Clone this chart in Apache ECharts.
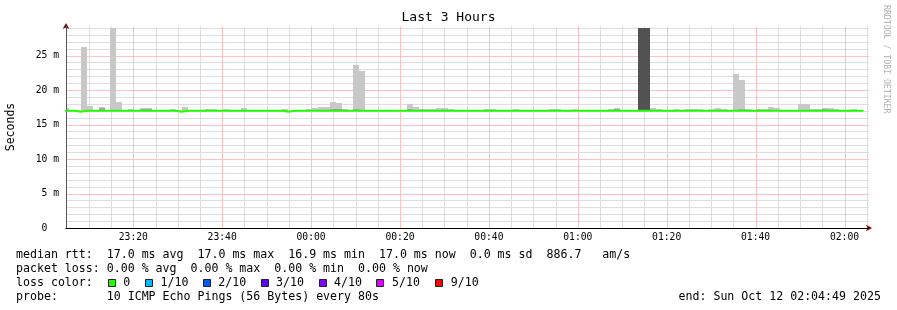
<!DOCTYPE html>
<html>
<head>
<meta charset="utf-8">
<script src="https://cdn.jsdelivr.net/npm/echarts@6/dist/echarts.min.js"></script>
<style>html,body{margin:0;padding:0;background:#fff}#c{width:897px;height:310px}</style>
</head>
<body>
<div id="c"></div>
<script>
// ---- data (time unit: minutes after Sat 23:00; values in ms) ----
const stepStart = 4.2;            // 23:04:12, start of the first (partial) 80 s step
const stepMinutes = 80 / 60;      // probe step: 80 s

// median rtt per step
const rttMedian = [
  17.0,17.0,16.85,17.0,17.0,17.0,17.0,17.0,17.0,17.0,
  17.0,17.0,17.0,17.0,17.0,17.0,17.0,17.0,17.0,16.85,
  17.0,17.0,17.0,17.0,17.0,17.0,17.0,17.0,17.0,17.0,
  17.0,17.0,17.0,17.0,17.0,17.0,17.0,16.85,17.0,17.0,
  17.0,17.0,17.0,17.0,17.0,17.0,17.0,17.0,17.0,17.0,
  17.0,17.0,17.0,17.0,17.0,17.0,17.0,17.0,17.0,17.0,
  17.0,17.0,17.0,17.0,17.0,17.0,17.0,17.0,17.0,17.0,
  17.0,17.0,17.0,17.0,17.0,17.0,17.0,17.0,17.0,17.0,
  17.0,17.0,17.0,17.0,17.0,17.0,17.0,17.0,17.0,17.0,
  17.0,17.0,17.0,17.0,17.0,17.0,17.0,17.0,17.0,17.0,
  17.0,17.0,17.0,17.0,17.0,17.0,17.0,17.0,17.0,17.0,
  17.0,17.0,17.0,17.0,17.0,17.0,17.0,17.0,17.0,17.0,
  17.0,17.0,17.0,17.0,17.0,17.0,17.0,17.0,17.0,17.0,
  17.0,17.0,17.0,17.0,17.0
];
// lowest ping per step (smoke bottom)
const smokeLow = [
  16.9,16.9,16.8,16.9,16.9,16.9,16.9,16.9,16.9,16.9,
  16.9,16.9,16.9,16.9,16.9,16.9,16.9,16.9,16.9,16.8,
  16.9,16.9,16.9,16.9,16.9,16.9,16.9,16.9,16.9,16.9,
  16.9,16.9,16.9,16.9,16.9,16.9,16.9,16.8,16.9,16.9,
  16.9,16.9,16.9,16.9,16.9,16.9,16.9,16.9,16.9,16.9,
  16.9,16.9,16.9,16.9,16.9,16.9,16.9,16.9,16.9,16.9,
  16.9,16.9,16.9,16.9,16.9,16.9,16.9,16.9,16.9,16.9,
  16.9,16.9,16.9,16.9,16.9,16.9,16.9,16.9,16.9,16.9,
  16.9,16.9,16.9,16.9,16.9,16.9,16.9,16.9,16.9,16.9,
  16.9,16.9,16.9,16.9,16.9,16.9,16.9,16.9,16.9,16.9,
  16.9,16.9,16.9,16.9,16.9,16.9,16.9,16.9,16.9,16.9,
  16.9,16.9,16.9,16.9,16.9,16.9,16.9,16.9,16.9,16.9,
  16.9,16.9,16.9,16.9,16.9,16.9,16.9,16.9,16.9,16.9,
  16.9,16.9,16.9,16.9,16.9
];
// highest ping per step (outer, light smoke)
const smokeHigh = [
  17.4,17.0,17.0,26.2,17.7,17.0,17.53,17.0,29.0,18.25,
  17.0,17.25,17.0,17.4,17.4,17.0,17.0,17.0,17.25,17.0,
  17.53,17.0,17.0,17.0,17.25,17.25,17.0,17.25,17.0,17.0,
  17.4,17.0,17.0,17.0,17.0,17.0,17.0,17.25,17.0,17.0,
  17.0,17.25,17.35,17.53,17.53,18.25,18.1,17.25,17.0,23.65,
  22.8,17.0,17.0,17.0,17.0,17.0,17.0,17.0,18.0,17.53,
  17.25,17.25,17.25,17.4,17.4,17.25,17.0,17.0,17.0,17.0,
  17.0,17.25,17.25,17.0,17.0,17.0,17.25,17.0,17.0,17.0,
  17.0,17.0,17.25,17.25,17.0,17.0,17.25,17.0,17.0,17.0,
  17.0,17.0,17.25,17.4,17.0,17.0,17.0,29.0,29.0,17.4,
  17.25,17.0,17.0,17.25,17.0,17.25,17.25,17.25,17.0,17.25,
  17.4,17.25,17.0,22.3,21.45,17.25,17.0,17.25,17.25,17.53,
  17.4,17.0,17.0,17.0,18.0,18.0,17.25,17.25,17.4,17.4,
  17.25,17.0,17.0,17.25,17.0
];
// inner (medium grey) smoke top per step
const smokeMid = [
  null,null,null,null,null,null,17.35,null,null,null,
  null,null,null,17.3,17.3,null,null,null,null,null,
  null,null,null,null,null,null,null,null,null,null,
  null,null,null,null,null,null,null,null,null,null,
  null,null,null,null,null,17.25,17.25,null,null,17.25,
  null,null,null,null,null,null,null,null,17.25,null,
  null,null,null,null,null,null,null,null,null,null,
  null,null,null,null,null,null,null,null,null,null,
  null,null,null,null,null,null,null,null,null,null,
  null,null,null,17.3,null,null,null,null,null,null,
  null,null,null,null,null,null,null,null,null,null,
  null,null,null,null,17.25,null,null,null,null,null,
  null,null,null,null,null,null,null,null,17.3,null,
  null,null,null,null,null
];
// core (dark grey) smoke top per step
const smokeCore = [
  null,null,null,null,null,null,null,null,null,null,
  null,null,null,null,null,null,null,null,null,null,
  null,null,null,null,null,null,null,null,null,null,
  null,null,null,null,null,null,null,null,null,null,
  null,null,null,null,null,null,null,null,null,null,
  null,null,null,null,null,null,null,null,null,null,
  null,null,null,null,null,null,null,null,null,null,
  null,null,null,null,null,null,null,null,null,null,
  null,null,null,null,null,null,null,null,null,null,
  null,null,null,null,null,null,null,29.0,29.0,null,
  null,null,null,null,null,null,null,null,null,null,
  null,null,null,null,null,null,null,null,null,null,
  null,null,null,null,null,null,null,null,null,null,
  null,null,null,null,null
];
// axis tick labels (minutes after 23:00) and grid values
const xLabelValues = [20,40,60,80,100,120,140,160,180];
const xMinorGrid = [10,15,25,30,35,45,50,55,65,70,75,85,90,95,105,110,115,125,130,135,145,150,155,165,170,175,185];
const yLabelValues = [0,5,10,15,20,25];
const yMinorGrid = [1,2,3,4,6,7,8,9,11,12,13,14,16,17,18,19,21,22,23,24,26,27,28,29];

// legend texts
const statsLine = 'median rtt:  17.0 ms avg  17.0 ms max  16.9 ms min  17.0 ms now  0.0 ms sd  886.7   am/s';
const lossLine = 'packet loss: 0.00 % avg  0.00 % max  0.00 % min  0.00 % now';
const probeLine = 'probe:       10 ICMP Echo Pings (56 Bytes) every 80s';
const endLine = 'end: Sun Oct 12 02:04:49 2025';
const lossLabels = ['0','1/10','2/10','3/10','4/10','5/10','9/10'];
const lossColors = ['#26ff00','#00b8ff','#0059ff','#5e00ff','#7e00ff','#dd00ff','#ff0000'];

// ---- view settings ----
const X_MIN = 4.86, X_MAX = 185.51, Y_MAX = 29.28;
const FONT = '"DejaVu Sans Mono", "Liberation Mono", monospace';
const MINOR = '#dedede';
const MAJOR = '#f8c4c4';

const N = smokeHigh.length;
const stepTimes = [];
for (let k = 0; k <= N; k++) stepTimes.push(stepStart + k * stepMinutes);

function bands(tops, bottoms) {
  const out = [];
  for (let k = 0; k < N; k++) {
    if (tops[k] != null && tops[k] > bottoms[k]) out.push([stepTimes[k], stepTimes[k + 1], bottoms[k], tops[k]]);
  }
  return out;
}

function smokeItem(color) {
  return function (params, api) {
    const cs = params.coordSys;
    const a = api.coord([api.value(0), api.value(3)]);
    const b = api.coord([api.value(1), api.value(2)]);
    const x0 = Math.max(Math.round(a[0]), cs.x);
    const x1 = Math.min(Math.round(b[0]), cs.x + cs.width);
    const y0 = Math.max(Math.round(a[1]), cs.y);
    const y1 = Math.round(b[1]);
    if (x1 <= x0 || y1 <= y0) return null;
    return { type: 'rect', shape: { x: x0, y: y0, width: x1 - x0, height: y1 - y0 }, style: { fill: color } };
  };
}
function hGrid(color) {
  return function (params, api) {
    const cs = params.coordSys;
    const y = Math.round(api.coord([X_MIN, api.value(1)])[1]) + 0.5;
    return { type: 'line', shape: { x1: cs.x + 1, y1: y, x2: cs.x + cs.width, y2: y },
      style: { stroke: color, lineWidth: 1 } };
  };
}
function vGrid(color) {
  return function (params, api) {
    const cs = params.coordSys;
    const x = Math.round(api.coord([api.value(0), 0])[0]) + 0.5;
    return { type: 'line', shape: { x1: x, y1: cs.y, x2: x, y2: cs.y + cs.height },
      style: { stroke: color, lineWidth: 1 } };
  };
}

const medianData = stepTimes.map((t, k) => [t, rttMedian[Math.min(k, N - 1)]]);

function timeLabel(v) {
  const total = Math.round(23 * 60 + v);
  const h = Math.floor(total / 60) % 24, m = total % 60;
  return String(h).padStart(2, '0') + ':' + String(m).padStart(2, '0');
}

// legend graphics
const legendTexts = [
  { type: 'text', x: 16, y: 254.5, style: { text: statsLine } },
  { type: 'text', x: 16, y: 268.5, style: { text: lossLine } },
  { type: 'text', x: 16, y: 282.5, style: { text: 'loss color:' } },
  { type: 'text', x: 16, y: 296.5, style: { text: probeLine } },
  { type: 'text', x: 678.5, y: 296.5, style: { text: endLine } }
];
const boxX = [108.5, 145.5, 203.5, 261.5, 319.5, 376.5, 435.5];
const textX = [123.3, 160.5, 218.3, 276, 334, 392, 450.8];
lossLabels.forEach((lab, i) => {
  legendTexts.push({ type: 'rect', shape: { x: boxX[i], y: 279.5, width: 7, height: 7 },
    style: { fill: lossColors[i], stroke: '#222', lineWidth: 1 } });
  legendTexts.push({ type: 'text', x: textX[i], y: 282.5, style: { text: lab } });
});
legendTexts.forEach(g => {
  if (g.type === 'text') Object.assign(g.style, { font: '11.6px ' + FONT, fill: '#000', verticalAlign: 'middle', align: 'left' });
});
legendTexts.push({ type: 'text', x: 886, y: 5, rotation: -Math.PI / 2,
  style: { text: 'RRDTOOL / TOBI OETIKER', font: '8.2px ' + FONT, fill: '#b0b0b0', align: 'left', verticalAlign: 'middle' } });

const gridSeries = (name, data, render) => ({
  type: 'custom', name, xAxisIndex: 0, yAxisIndex: 0, z: 1, silent: true,
  renderItem: render, data, encode: { x: 0, y: 1 }
});

const chart = echarts.init(document.getElementById('c'), null, { renderer: 'canvas' });
chart.setOption({
  animation: false,
  backgroundColor: '#fff',
  title: { text: 'Last 3 Hours', left: 'center', top: 11, padding: 0,
    textStyle: { fontFamily: FONT, fontSize: 13, fontWeight: 'normal', color: '#000' } },
  grid: { left: 66, right: 28, top: 26, bottom: 82, containLabel: false, outerBoundsMode: 'none' },
  xAxis: [
    { type: 'value', min: X_MIN, max: X_MAX, position: 'bottom', z: 3,
      axisLine: { show: true, onZero: false, lineStyle: { color: '#000', width: 1 } },
      axisTick: { show: false }, splitLine: { show: false },
      axisLabel: { customValues: xLabelValues, formatter: timeLabel, margin: 4,
        fontFamily: FONT, fontSize: 9.7, color: '#000' } },
    { type: 'value', min: X_MIN, max: X_MAX, position: 'bottom', z: 1,
      axisLine: { show: true, onZero: false, symbol: ['none', 'arrow'], symbolSize: [5, 6], symbolOffset: [0, 3],
        lineStyle: { color: '#800000', width: 1 } },
      axisTick: { show: false }, axisLabel: { show: false }, splitLine: { show: false } }
  ],
  yAxis: [
    { type: 'value', min: 0, max: Y_MAX, interval: 5, position: 'left', z: 3,
      axisLine: { show: true, onZero: false, lineStyle: { color: '#555', width: 1 } },
      axisTick: { show: false }, splitLine: { show: false },
      axisLabel: { margin: 7, fontFamily: FONT, fontSize: 9.7, color: '#000',
        formatter: v => (Math.abs(v % 5) > 1e-6 ? '' : (v === 0 ? '0  ' : v + ' m')) },
      name: 'Seconds', nameLocation: 'middle', nameGap: 49, nameRotate: 90,
      nameTextStyle: { fontFamily: FONT, fontSize: 11.5, color: '#000' } },
    { type: 'value', min: 0, max: Y_MAX, position: 'left', z: 1,
      axisLine: { show: true, onZero: false, symbol: ['none', 'arrow'], symbolSize: [5, 6], symbolOffset: [0, 3],
        lineStyle: { color: '#800000', width: 1 } },
      axisTick: { show: false }, axisLabel: { show: false }, splitLine: { show: false } }
  ],
  graphic: legendTexts,
  series: [
    gridSeries('hMinor', yMinorGrid.map(v => [X_MIN, v]), hGrid(MINOR)),
    gridSeries('vMinor', xMinorGrid.map(v => [v, 1]), vGrid(MINOR)),
    gridSeries('hMajor', yLabelValues.filter(v => v > 0).map(v => [X_MIN, v]), hGrid(MAJOR)),
    gridSeries('vMajor', xLabelValues.map(v => [v, 1]), vGrid(MAJOR)),
    { type: 'custom', name: 'smoke', xAxisIndex: 0, yAxisIndex: 0, z: 3, silent: true,
      renderItem: smokeItem('#c8c8c8'), data: bands(smokeHigh, smokeLow), encode: { x: [0, 1], y: [2, 3] } },
    { type: 'custom', name: 'smokeMid', xAxisIndex: 0, yAxisIndex: 0, z: 3, silent: true,
      renderItem: smokeItem('#a6a6a6'), data: bands(smokeMid, smokeLow), encode: { x: [0, 1], y: [2, 3] } },
    { type: 'custom', name: 'smokeCore', xAxisIndex: 0, yAxisIndex: 0, z: 3, silent: true,
      renderItem: smokeItem('#525252'), data: bands(smokeCore, smokeLow), encode: { x: [0, 1], y: [2, 3] } },
    { type: 'line', name: 'median rtt', xAxisIndex: 0, yAxisIndex: 0, z: 5, silent: true,
      step: 'end', symbol: 'none', data: medianData, clip: true,
      lineStyle: { color: '#26ff00', width: 2 } }
  ]
});
</script>
</body>
</html>
